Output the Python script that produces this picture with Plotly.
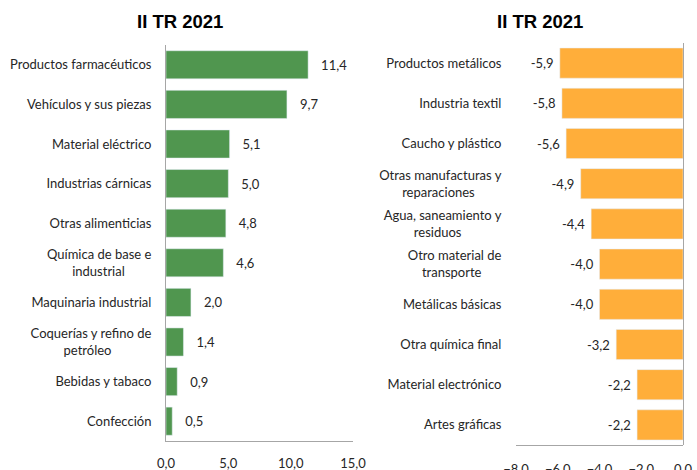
import plotly.graph_objects as go

left_cats = ["Productos farmacéuticos", "Vehículos y sus piezas", "Material eléctrico",
             "Industrias cárnicas", "Otras alimenticias", "Química de base e<br>industrial",
             "Maquinaria industrial", "Coquerías y refino de<br>petróleo", "Bebidas y tabaco",
             "Confección"]
left_vals = [11.4, 9.7, 5.1, 5.0, 4.8, 4.6, 2.0, 1.4, 0.9, 0.5]

right_cats = ["Productos metálicos", "Industria textil", "Caucho y plástico",
              "Otras manufacturas y<br>reparaciones", "Agua, saneamiento y<br>residuos",
              "Otro material de<br>transporte", "Metálicas básicas", "Otra química final",
              "Material electrónico", "Artes gráficas"]
right_vals = [-5.9, -5.8, -5.6, -4.9, -4.4, -4.0, -4.0, -3.2, -2.2, -2.2]

title_text = "II TR 2021"
FONT = "Lato"
FS = 13
TXT = "#262626"
AX = "#A6A6A6"
NB = "\u00a0"

# rough Lato glyph widths (em) used only to centre wrapped tick labels
_W = {"i": .24, "í": .24, "j": .24, "l": .24, "f": .33, "t": .35, "r": .37, "s": .42,
      "c": .46, "z": .45, "e": .52, "m": .83, "w": .76, " ": .19, ",": .22, ".": .22,
      "y": .5, "v": .5, "g": .5, "k": .5, "x": .49, "Q": .72, "O": .72, "A": .65}


def _width(s):
    return sum(_W.get(ch, .62 if ch.isupper() else .56) for ch in s) * FS


def centered(label):
    lines = label.split("<br>")
    if len(lines) == 1:
        return label
    widths = [_width(s) for s in lines]
    m = max(widths)
    return "<br>".join(s + NB * round((m - w) / 2 / 2.9) for s, w in zip(lines, widths))


fig = go.Figure()
fig.add_trace(go.Bar(x=left_vals, y=left_cats, orientation="h", xaxis="x", yaxis="y",
                     marker=dict(color="#50964F"), width=0.71,
                     text=left_vals, texttemplate=NB * 3 + "%{x:.1f}", textposition="outside",
                     textfont=dict(family=FONT, size=FS, color=TXT), cliponaxis=False,
                     showlegend=False))
fig.add_trace(go.Bar(x=right_vals, y=right_cats, orientation="h", xaxis="x2", yaxis="y2",
                     marker=dict(color="#FFAE3A"), width=0.75,
                     text=right_vals, texttemplate="%{x:.1f}" + NB, textposition="outside",
                     textfont=dict(family=FONT, size=FS, color=TXT), cliponaxis=False,
                     showlegend=False))

W, H = 697, 470
fig.update_layout(
    width=W, height=H, margin=dict(l=0, r=0, t=0, b=0, autoexpand=False),
    paper_bgcolor="white", plot_bgcolor="white",
    separators=",.",
    font=dict(family=FONT, size=FS, color=TXT),
    xaxis=dict(domain=[166 / W, 353 / W], range=[0, 15], dtick=5, tickformat=".1f",
               showgrid=False, zeroline=False, showline=True, linecolor=AX, linewidth=1,
               ticks="outside", ticklen=10, tickcolor="rgba(0,0,0,0)", anchor="y",
               automargin=False, tickfont=dict(family=FONT, size=FS, color=TXT)),
    yaxis=dict(domain=[1 - 441 / H, 1 - 45 / H], autorange="reversed", showgrid=False,
               showline=True, linecolor=AX, linewidth=1, anchor="x", automargin=False,
               tickmode="array", tickvals=left_cats, ticktext=[centered(c) for c in left_cats],
               ticks="outside", ticklen=11, tickcolor="rgba(0,0,0,0)",
               tickfont=dict(family=FONT, size=FS, color=TXT)),
    xaxis2=dict(domain=[516 / W, 683 / W], range=[-8, 0], dtick=2, tickformat=".1f",
                showgrid=False, zeroline=True, zerolinecolor=AX, zerolinewidth=1,
                showline=True, linecolor=AX, linewidth=1, anchor="y2", automargin=False,
                ticks="outside", ticklen=12, tickcolor="rgba(0,0,0,0)",
                tickfont=dict(family=FONT, size=FS, color=TXT)),
    yaxis2=dict(domain=[1 - 445 / H, 1 - 43 / H], autorange="reversed", showgrid=False,
                showline=False, anchor="x2", automargin=False,
                tickmode="array", tickvals=right_cats, ticktext=[centered(c) for c in right_cats],
                ticks="outside", ticklen=11, tickcolor="rgba(0,0,0,0)",
                tickfont=dict(family=FONT, size=FS, color=TXT)),
    annotations=[
        dict(text="<b>" + title_text + "</b>", x=180 / W, y=1 - 22 / H, xref="paper", yref="paper",
             showarrow=False, xanchor="center", yanchor="middle",
             font=dict(family="Liberation Sans, Arial", size=18.5, color="#000")),
        dict(text="<b>" + title_text + "</b>", x=540 / W, y=1 - 22 / H, xref="paper", yref="paper",
             showarrow=False, xanchor="center", yanchor="middle",
             font=dict(family="Liberation Sans, Arial", size=18.5, color="#000")),
    ],
)

fig.write_html("out.html", post_script="document.body.style.margin='0';",
               config={"displayModeBar": False})
